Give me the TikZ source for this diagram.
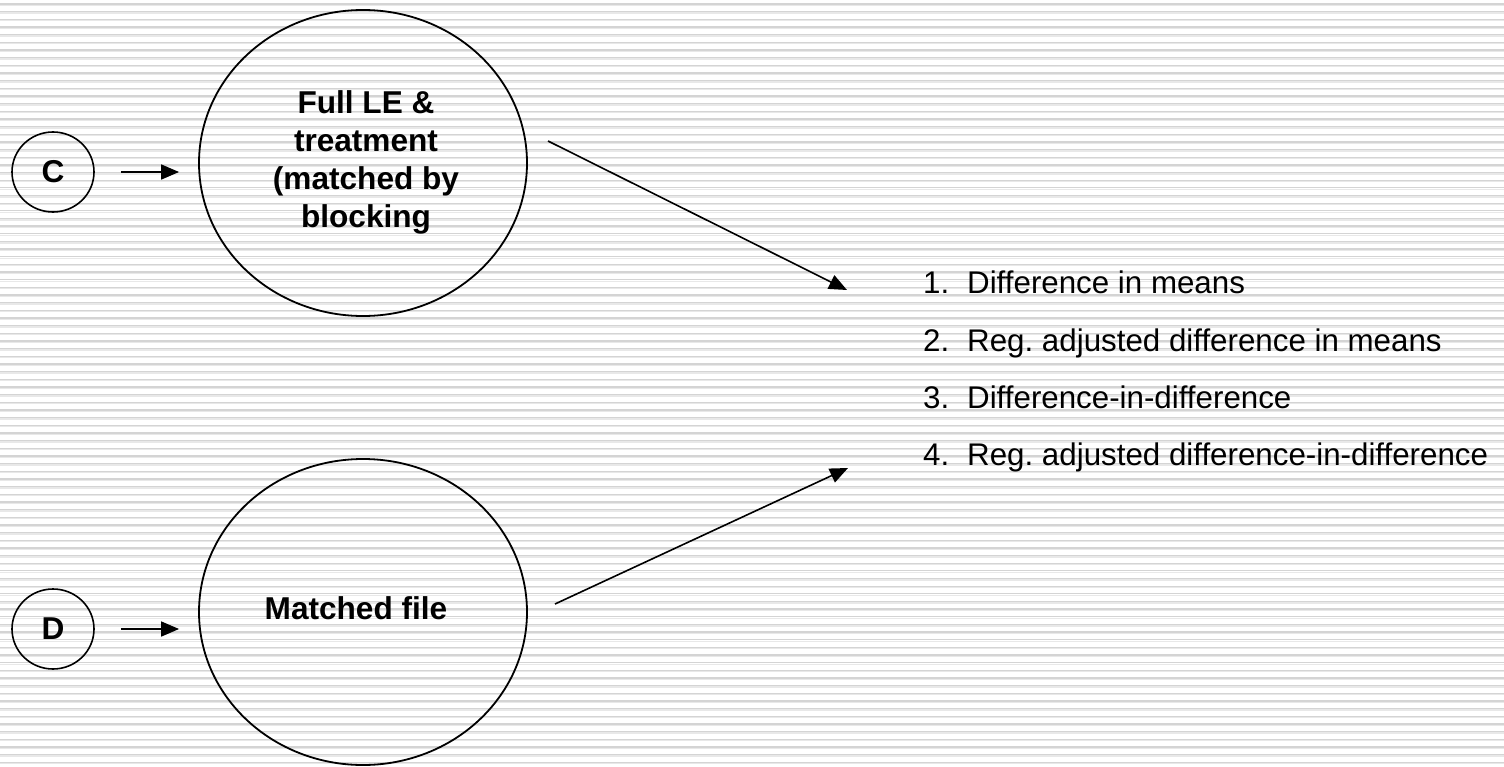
\documentclass[tikz,border=0pt]{standalone}
\usepackage{fontspec}
\setmainfont{Liberation Sans}
\usetikzlibrary{arrows.meta,shapes.geometric}
\definecolor{stripedark}{RGB}{212,212,212}
\definecolor{stripelight}{RGB}{232,232,232}
\frenchspacing
\begin{document}
\begin{tikzpicture}[x=1bp,y=-1bp,
  smallring/.style={draw=black, line width=1.6bp, ellipse, minimum width=82bp, minimum height=80bp, inner sep=0pt, font=\fontsize{31.6bp}{36bp}\selectfont\bfseries},
  bigring/.style={draw=black, line width=1.8bp, ellipse, minimum width=328bp, minimum height=306bp, inner sep=0pt},
  btext/.style={align=center, inner sep=0pt, font=\fontsize{31.6bp}{38bp}\selectfont\bfseries},
  itemtxt/.style={anchor=base west, inner sep=0pt, font=\fontsize{31.3bp}{38bp}\selectfont},
  arr/.style={line width=1.6bp, draw=black, -{Triangle[length=18bp,width=15bp]}},
  darkline/.style={line width=1.3bp, draw=stripedark},
  lightline/.style={line width=1.3bp, draw=stripelight},
]
\useasboundingbox (0,0) rectangle (1504,766);
\fill[white] (0,0) rectangle (1504,766);
\foreach \i in {0,...,99}{
  \draw[darkline] (0,{4+\i*7.66}) -- (1504,{4+\i*7.66});
  \draw[lightline] (0,{5.4+\i*7.66}) -- (1504,{5.4+\i*7.66});
}
% nodes
\node[smallring] (c) at (53,172) {C};
\node[smallring] (d) at (53,629) {D};
\node[bigring] (full) at (363,163) {};
\node[bigring] (match) at (363,612) {};
\node[btext] (fulltext) at (366,162) {Full LE \&\\treatment\\(matched by\\blocking};
\node[btext, anchor=base] (matchtext) at (356,619) {Matched file};
% list
\node[itemtxt] (i1) at (923,293) {\makebox[44bp][l]{1.}Difference in means};
\node[itemtxt] (i2) at (923,351) {\makebox[44bp][l]{2.}Reg. adjusted difference in means};
\node[itemtxt] (i3) at (923,408) {\makebox[44bp][l]{3.}Difference-in-difference};
\node[itemtxt] (i4) at (923,465) {\makebox[44bp][l]{4.}Reg. adjusted difference-in-difference};
% connectors
\draw[arr, shorten <=26bp, shorten >=19bp] (c.east) -- (c.east -| full.west);
\draw[arr, shorten <=26bp, shorten >=19bp] (d.east) -- (d.east -| match.west);
\coordinate (s1) at (548,141);
\coordinate (t1) at (847,290);
\coordinate (s2) at (555,604);
\coordinate (t2) at (848,468);
\draw[arr] (s1) -- (t1);
\draw[arr] (s2) -- (t2);
\end{tikzpicture}
\end{document}
